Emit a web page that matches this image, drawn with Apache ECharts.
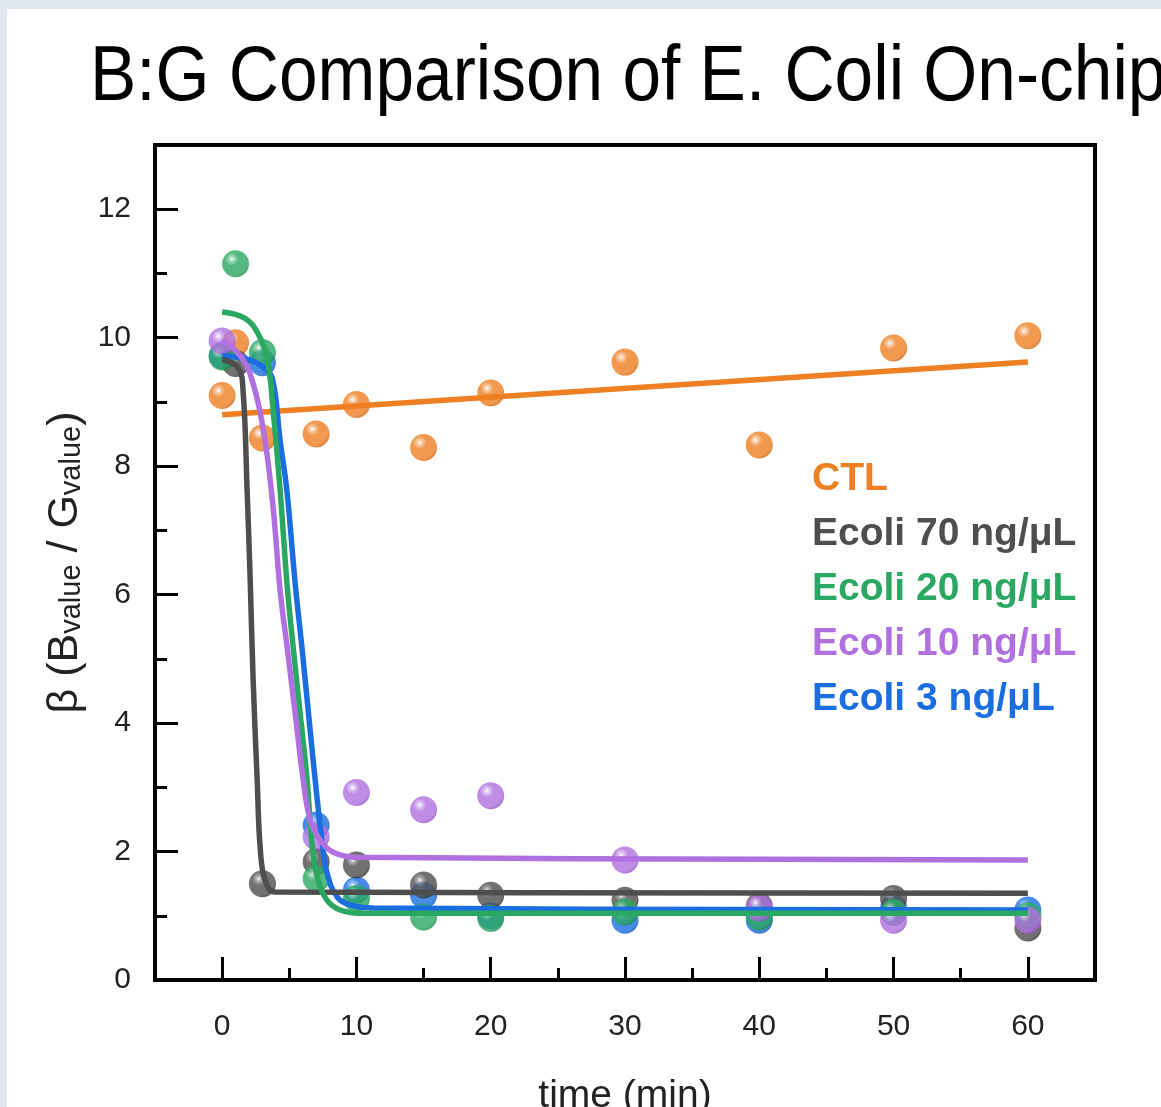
<!DOCTYPE html>
<html>
<head>
<meta charset="utf-8">
<script src="https://cdn.jsdelivr.net/npm/echarts@6/dist/echarts.min.js"></script>
<style>
    html, body { margin: 0; padding: 0; width: 1161px; height: 1107px; overflow: hidden; background: #dfe6ef; }
    #chart { position: absolute; left: 7px; top: 9px; width: 1154px; height: 1098px; background: #fff; }
</style>
</head>
<body>
<div id="chart"></div>
<script>
    // tick values
    var xMajorTicks = [0, 10, 20, 30, 40, 50, 60];
    var xMinorTicks = [5, 15, 25, 35, 45, 55];
    var yMajorTicks = [0, 2, 4, 6, 8, 10, 12];
    var yMinorTicks = [1, 3, 5, 7, 9, 11];

    var names = ['CTL', 'Ecoli 70 ng/μL', 'Ecoli 20 ng/μL', 'Ecoli 10 ng/μL', 'Ecoli 3 ng/μL'];

    // measured points (time in min, beta)
    var ctlTime = [0, 1, 3, 7, 10, 15, 20, 30, 40, 50, 60];
    var ctlBeta = [9.1, 9.92, 8.44, 8.5, 8.96, 8.29, 9.14, 9.62, 8.33, 9.84, 10.03];
    var e70Time = [1, 3, 7, 10, 15, 20, 30, 40, 50, 60];
    var e70Beta = [9.6, 1.5, 1.84, 1.79, 1.48, 1.32, 1.24, 1.15, 1.27, 0.81];
    var e20Time = [0, 1, 3, 7, 10, 15, 20, 30, 40, 50, 60];
    var e20Beta = [9.7, 11.15, 9.77, 1.58, 1.27, 0.98, 0.96, 1.06, 0.98, 1.05, 1.0];
    var e10Time = [0, 7, 10, 15, 20, 30, 40, 50, 60];
    var e10Beta = [9.95, 2.23, 2.92, 2.65, 2.87, 1.87, 1.12, 0.93, 0.93];
    var e3Time = [0, 3, 7, 10, 15, 20, 30, 40, 50, 60];
    var e3Beta = [9.72, 9.61, 2.41, 1.4, 1.32, 1.0, 0.93, 0.93, 1.12, 1.09];

    // fitted curves
    var ctlFitTime = [0, 60];
    var ctlFitBeta = [8.8, 9.62];
    var e70FitTime = [0, 1.19, 1.56, 1.86, 2.09, 2.31, 2.61, 2.83, 3.2, 3.95, 60];
    var e70FitBeta = [9.66, 9.53, 9.17, 7.62, 6.22, 4.66, 3.11, 2.07, 1.55, 1.37, 1.35];
    var e20FitTime = [0, 1.71, 2.68, 3.35, 3.8, 4.32, 4.85, 5.29, 5.81, 6.33, 6.71, 7.15, 7.82, 8.79, 10.28, 60];
    var e20FitBeta = [10.4, 10.3, 10.06, 9.68, 8.86, 7.62, 6.12, 5.18, 4.15, 3.11, 2.07, 1.55, 1.24, 1.09, 1.04, 1.04];
    var e10FitTime = [0, 1.49, 2.46, 3.2, 3.8, 4.32, 4.84, 5.44, 6.04, 6.56, 7.3, 8.27, 10.06, 60];
    var e10FitBeta = [9.95, 9.68, 9.17, 8.39, 7.35, 6.06, 5.18, 4.15, 3.11, 2.49, 2.18, 1.99, 1.91, 1.87];
    var e3FitTime = [0, 2.0, 3.0, 3.73, 4.32, 4.82, 5.45, 5.94, 6.43, 6.93, 7.43, 7.82, 8.57, 9.54, 11.25, 60];
    var e3FitBeta = [9.72, 9.66, 9.55, 9.37, 8.39, 7.62, 6.15, 5.18, 4.15, 3.11, 2.18, 1.66, 1.29, 1.17, 1.12, 1.09];

    var colors = ['#ee7f22', '#4e4e4e', '#2aa862', '#b070df', '#1a6ee0'];
    var darks = ['#d06a12', '#333333', '#1f8f50', '#9658c8', '#1258c0'];
    var lights = ['#f6c59a', '#a0a0a0', '#8fd6ae', '#dcc0f4', '#8ab6f4'];

    var font = '"Liberation Sans", Arial, sans-serif';

    function pairs(xs, ys) {
        return xs.map(function (x, i) { return [x, ys[i]]; });
    }

    // ball looking marker
    function ball(i) {
        return new echarts.graphic.RadialGradient(0.36, 0.32, 0.7, [
            {offset: 0, color: '#ffffff'},
            {offset: 0.12, color: lights[i]},
            {offset: 0.35, color: colors[i]},
            {offset: 0.85, color: colors[i]},
            {offset: 1, color: darks[i]}
        ]);
    }

    function fitLine(i, xs, ys) {
        return {
            name: names[i] + ' fit',
            type: 'line',
            data: pairs(xs, ys),
            symbol: 'none',
            smooth: 0.4,
            lineStyle: {color: colors[i], width: 5.5},
            itemStyle: {color: colors[i]},
            silent: true
        };
    }

    function dots(i, xs, ys) {
        return {
            name: names[i],
            type: 'scatter',
            data: pairs(xs, ys),
            symbol: 'circle',
            symbolSize: 27,
            itemStyle: {color: ball(i)}
        };
    }

    var chart = echarts.init(document.getElementById('chart'));
    chart.setOption({
        animation: false,
        backgroundColor: '#fff',
        graphic: [{
            type: 'text',
            left: 83,
            top: 30,
            scaleX: 0.89,
            style: {text: 'B:G Comparison of E. Coli On-chip', font: '78px ' + font, fill: '#000'}
        }],
        legend: {
            orient: 'vertical',
            left: 795,
            top: 446,
            icon: 'none',
            itemWidth: 0,
            itemGap: 16,
            selectedMode: false,
            textStyle: {fontSize: 39, fontWeight: 'bold', fontFamily: font},
            data: names.map(function (n, i) {
                return {name: n, textStyle: {color: colors[i]}};
            })
        },
        grid: {
            left: 148,
            top: 136,
            width: 940,
            height: 835,
            outerBoundsMode: 'none',
            containLabel: false,
            show: true,
            borderColor: '#000',
            borderWidth: 4,
            backgroundColor: 'transparent'
        },
        xAxis: [{
            type: 'value',
            position: 'bottom',
            min: -5,
            max: 65,
            axisLine: {show: true, onZero: false, lineStyle: {color: '#000', width: 4}},
            axisTick: {show: true, inside: true, length: 23, customValues: xMajorTicks, lineStyle: {color: '#000', width: 3}},
            axisLabel: {customValues: xMajorTicks, fontSize: 30, color: '#222', margin: 32, fontFamily: font},
            splitLine: {show: false},
            name: 'time (min)',
            nameLocation: 'middle',
            nameGap: 97,
            nameTextStyle: {fontSize: 39, color: '#222', fontFamily: font, verticalAlign: 'top'}
        }, {
            type: 'value',
            position: 'bottom',
            min: -5,
            max: 65,
            axisLine: {show: false, onZero: false},
            axisTick: {show: true, inside: true, length: 12, customValues: xMinorTicks, lineStyle: {color: '#000', width: 3}},
            axisLabel: {show: false},
            splitLine: {show: false}
        }],
        yAxis: [{
            type: 'value',
            position: 'left',
            min: 0,
            max: 13,
            axisLine: {show: true, onZero: false, lineStyle: {color: '#000', width: 4}},
            axisTick: {show: true, inside: true, length: 23, customValues: yMajorTicks, lineStyle: {color: '#000', width: 3}},
            axisLabel: {customValues: yMajorTicks, fontSize: 30, color: '#222', margin: 24, fontFamily: font},
            splitLine: {show: false},
            name: '{a|β (B}{s|value}{a| / G}{s|value}{a|)}',
            nameLocation: 'middle',
            nameGap: 68,
            nameTextStyle: {
                color: '#222',
                fontFamily: font,
                rich: {
                    a: {fontSize: 43, lineHeight: 43, verticalAlign: 'top', color: '#222', fontFamily: font},
                    s: {fontSize: 29, lineHeight: 29, padding: [27, 0, 0, 0], verticalAlign: 'bottom', color: '#222', fontFamily: font}
                }
            }
        }, {
            type: 'value',
            position: 'left',
            min: 0,
            max: 13,
            axisLine: {show: false, onZero: false},
            axisTick: {show: true, inside: true, length: 12, customValues: yMinorTicks, lineStyle: {color: '#000', width: 3}},
            axisLabel: {show: false},
            splitLine: {show: false}
        }],
        series: [
            fitLine(0, ctlFitTime, ctlFitBeta),
            dots(0, ctlTime, ctlBeta),
            fitLine(4, e3FitTime, e3FitBeta),
            dots(4, e3Time, e3Beta),
            fitLine(1, e70FitTime, e70FitBeta),
            dots(1, e70Time, e70Beta),
            fitLine(2, e20FitTime, e20FitBeta),
            dots(2, e20Time, e20Beta),
            fitLine(3, e10FitTime, e10FitBeta),
            dots(3, e10Time, e10Beta)
        ]
    });
</script>
</body>
</html>
